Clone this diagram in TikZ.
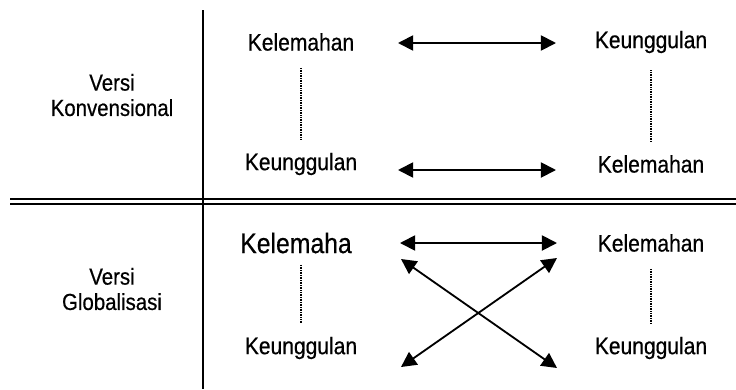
\documentclass[tikz,border=0pt]{standalone}
\usepackage{fontspec}
\setmainfont{Liberation Sans}[FakeStretch=0.88, FakeBold=0.5]
\usetikzlibrary{arrows.meta, positioning}

\begin{document}
\begin{tikzpicture}[
    x=0.025cm, y=-0.025cm,
    txt/.style={inner sep=2pt, font=\fontsize{17}{18}\selectfont},
    bigtxt/.style={inner sep=2pt, font=\fontsize{20}{22}\selectfont},
    side/.style={align=center, inner sep=2pt, font=\fontsize{16.5}{18}\selectfont},
    rule/.style={line width=1.5pt},
    dotline/.style={line width=1.2pt, dash pattern=on 0.5pt off 0.7pt, shorten <=10pt, shorten >=7pt},
    arrow/.style={line width=1.3pt, {Triangle[length=0.38cm,width=0.38cm]}-{Triangle[length=0.38cm,width=0.38cm]}}
]
\useasboundingbox (0,0) rectangle (736,389);

% frame lines
\draw[rule] (203,10) -- (203,389);
\draw[rule] (10,199) -- (736,199);
\draw[line width=1.1pt] (10,204) -- (736,204);

% row headers
\node[side] (konv) at (112,95) {Versi\\Konvensional};
\node[side] (glob) at (112,289) {Versi\\Globalisasi};

% upper block
\node[txt] (kelA) at (301,42) {Kelemahan};
\node[txt] (keuA) at (301,164) {Keunggulan};
\node[txt] (keuB) at (651,42) {Keunggulan};
\node[txt] (kelB) at (651,164) {Kelemahan};

% lower block
\node[bigtxt] (kelC) at (296,243) {Kelemaha};
\node[txt] (keuC) at (301,348) {Keunggulan};
\node[txt] (kelD) at (651,243) {Kelemahan};
\node[txt] (keuD) at (651,348) {Keunggulan};

\draw[dotline] (kelA) -- (keuA);
\draw[dotline] (keuB) -- (kelB);
\draw[dotline, shorten <=6pt, shorten >=8pt] (keuC |- kelC.south) -- (keuC.north);
\draw[dotline] (kelD) -- (keuD);

% arrow ends
\coordinate (p1) at (398,43);
\coordinate (q1) at (556,43);
\coordinate (p2) at (398,170);
\coordinate (q2) at (556,170);
\coordinate (p3) at (400,243);
\coordinate (q3) at (557,243);
\coordinate (p4) at (401,259);
\coordinate (q4) at (557,368);
\coordinate (p5) at (401,367);
\coordinate (q5) at (557,258);

\draw[arrow] (p1) -- (q1);
\draw[arrow] (p2) -- (q2);
\draw[arrow] (p3) -- (q3);
\draw[arrow] (p4) -- (q4);
\draw[arrow] (p5) -- (q5);
\end{tikzpicture}
\end{document}
